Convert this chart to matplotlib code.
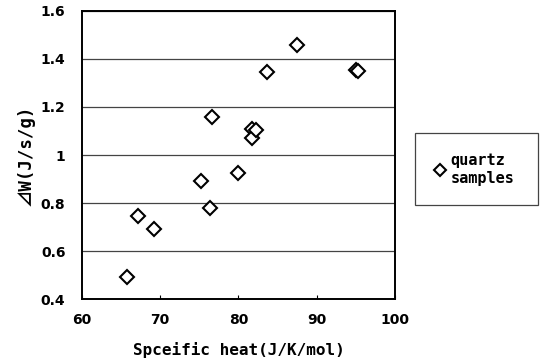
import matplotlib
matplotlib.use("Agg")
import matplotlib.pyplot as plt

# Specific heat (J/K/mol) vs delta W (J/s/g) for quartz samples
heat = [65.7, 67.2, 69.2, 75.2, 76.4, 76.6, 80.0, 81.7, 81.8, 82.2, 83.7, 87.5, 95.1, 95.3]
dw = [0.49, 0.746, 0.69, 0.89, 0.778, 1.16, 0.925, 1.11, 1.07, 1.105, 1.345, 1.458, 1.354, 1.351]

x_ticks = [60, 70, 80, 90, 100]
y_ticks = [0.4, 0.6, 0.8, 1.0, 1.2, 1.4, 1.6]
y_labels = ["0.4", "0.6", "0.8", "1", "1.2", "1.4", "1.6"]

plt.rcParams['font.family'] = ['DejaVu Sans', 'Noto Sans CJK JP']
plt.rcParams['font.weight'] = 'bold'
mono = ['DejaVu Sans Mono', 'Noto Sans CJK JP']

fig = plt.figure(figsize=(5.4, 3.63), dpi=100)
ax = fig.add_axes([0.152, 0.176, 0.579, 0.794])

ax.plot(heat, dw, linestyle='none', marker='D', markersize=7.5,
        markerfacecolor='white', markeredgecolor='black', markeredgewidth=1.5,
        label='quartz\nsamples', zorder=3)

ax.set_xlim(60, 100)
ax.set_ylim(0.4, 1.6)
ax.set_xticks(x_ticks)
ax.set_yticks(y_ticks)
ax.set_yticklabels(y_labels)
ax.yaxis.grid(True, color='#444444', linewidth=0.9)
ax.set_axisbelow(True)
ax.tick_params(axis='x', direction='in', length=3, labelsize=10, pad=10)
ax.tick_params(axis='y', length=0, labelsize=10, pad=12)
for s in ax.spines.values():
    s.set_linewidth(1.4)

ax.set_xlabel('Spceific heat(J/K/mol)', fontsize=11.5, fontweight='bold',
              labelpad=11, family=mono)
ax.set_ylabel('⊿W(J/s/g)', fontsize=12.5, fontweight='bold', labelpad=4,
              family=mono)

leg = ax.legend(loc='center', bbox_to_anchor=(0.769, 0.430, 0.228, 0.207),
                bbox_transform=fig.transFigure, mode='expand',
                fancybox=False, frameon=True,
                handlelength=0.6, handletextpad=0.4, borderpad=1.3,
                borderaxespad=0, labelspacing=0.2,
                prop={'size': 11, 'weight': 'bold', 'family': mono},
                markerscale=0.8)
leg.get_frame().set_edgecolor('#444444')
leg.get_frame().set_linewidth(0.9)
leg.get_frame().set_alpha(1)

fig.savefig('out.png', dpi=100)
